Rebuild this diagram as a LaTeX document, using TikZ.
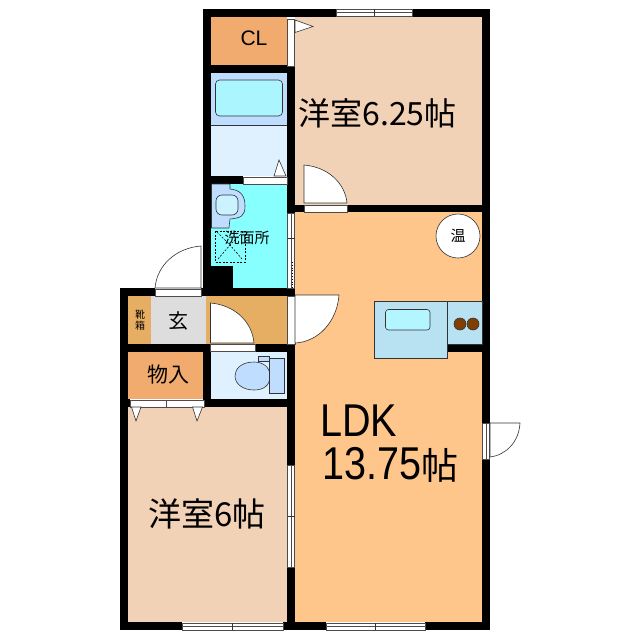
\documentclass[tikz,border=0pt]{standalone}
\usepackage{fontspec}
\setmainfont{Noto Sans CJK JP}
\newfontfamily\latinfont{Liberation Sans}
\tikzset{
wall/.style={fill=black, draw=none},
fitting/.style={draw=black!80, line width=0.6pt},
doorleaf/.style={fill=white, draw=black!80, line width=0.6pt},
sash/.style={fill=white, draw=black!70, line width=0.5pt},
label/.style={inner sep=0pt, text=black}
}
\definecolor{roomtan}{HTML}{F2D2B6}
\definecolor{ldkorange}{HTML}{FFC68C}
\definecolor{closetorange}{HTML}{F2AB6E}
\definecolor{hallorange}{HTML}{E6AE62}
\definecolor{wetpale}{HTML}{DFF1FF}
\definecolor{wetblue}{HTML}{BFDDFF}
\definecolor{tubcyan}{HTML}{ABF5FF}
\definecolor{washcyan}{HTML}{88FFFF}
\definecolor{kitchenblue}{HTML}{B8E2F2}
\definecolor{entrygray}{HTML}{DDDDDD}
\definecolor{burnerbrown}{HTML}{7F3F00}
\begin{document}
\begin{tikzpicture}[x=1pt,y=-1pt]
\useasboundingbox (0,0) rectangle (640,640);
\fill[white] (0,0) rectangle (640,640);

% rooms
\fill[roomtan] (295,17) rectangle (482,205);
\fill[ldkorange] (295,212) rectangle (482,622);
\fill[roomtan] (128,407) rectangle (287,622);
\fill[closetorange] (211,17) rectangle (287,65);
\fill[wetblue] (211,73) rectangle (287,125);
\fill[wetpale] (211,125) rectangle (287,176);
\fill[washcyan] (211,184) rectangle (287,288);
\fill[hallorange] (128,296) rectangle (151,344);
\fill[entrygray] (151,296) rectangle (206,344);
\fill[hallorange] (206,296) rectangle (287,344);
\fill[closetorange] (128,352) rectangle (203,399);
\fill[wetpale] (211,352) rectangle (287,399);

% walls
\fill[wall] (203,9) rectangle (336,17);
\fill[wall] (412,9) rectangle (490,17);
\fill[wall] (482,9) rectangle (490,423);
\fill[wall] (482,459) rectangle (490,630);
\fill[wall] (203,9) rectangle (211,288);
\fill[wall] (211,65) rectangle (295,73);
\fill[wall] (287,66) rectangle (295,213);
\fill[wall] (203,176) rectangle (243,184);
\fill[wall] (287,205) rectangle (304,212);
\fill[wall] (347,205) rectangle (482,212);
\fill[wall] (211,266) rectangle (233,288);
\fill[wall] (120,288) rectangle (155,296);
\fill[wall] (201,288) rectangle (295,296);
\fill[wall] (120,288) rectangle (128,630);
\fill[wall] (120,344) rectangle (211,352);
\fill[wall] (255,344) rectangle (295,352);
\fill[wall] (203,352) rectangle (211,407);
\fill[wall] (287,352) rectangle (295,465);
\fill[wall] (287,567) rectangle (295,630);
\fill[wall] (204,399) rectangle (295,407);
\fill[wall] (128,399) rectangle (130,407);
\fill[wall] (447,344) rectangle (482,352);
\fill[wall] (120,622) rectangle (182,630);
\fill[wall] (283,622) rectangle (326,630);
\fill[wall] (425,622) rectangle (490,630);

% windows
\foreach \xa/\xb in {336/412,182/283,326/425}{
  \pgfmathsetmacro{\yo}{\xa==336 ? 9 : 623}
  \filldraw[sash] (\xa,\yo) rectangle (\xb,\yo+7);
  \draw[black!70,line width=0.5pt] (\xa,\yo+3.5) -- (\xb,\yo+3.5);
  \draw[black!80,line width=0.5pt] ({(\xa+\xb)/2},\yo) -- ({(\xa+\xb)/2},\yo+7);
}
\filldraw[sash] (287.5,465) rectangle (294.5,567);
\draw[black!70,line width=0.5pt] (291,465) -- (291,567);
\draw[black!80,line width=0.5pt] (287.5,516) -- (294.5,516);
\filldraw[sash] (287.5,213) rectangle (294.5,288);
\draw[black!70,line width=0.5pt] (291,213) -- (291,288);
\draw[black!80,line width=0.5pt] (287.5,238) -- (294.5,238);
\fill[white] (288,262) rectangle (291,288);
\draw[black,dotted,line width=0.8pt] (292.5,262) -- (292.5,288);

% closet doors and plain door strips
\filldraw[sash] (287.5,19) rectangle (294,66);
\filldraw[sash] (243,177) rectangle (287,184);
\filldraw[sash] (287.5,296) rectangle (295,344);
\filldraw[sash] (130,400) rectangle (166,407);
\filldraw[sash] (166,400) rectangle (204,407);
\filldraw[sash] (155,289) rectangle (201,296);
\filldraw[sash] (210,344) rectangle (255,351);
\filldraw[sash] (304,205) rectangle (347,212);
\filldraw[sash] (482.5,423) rectangle (489.5,459);
\draw[black!70,line width=0.5pt] (486,423) -- (486,459);
\filldraw[doorleaf] (295,20) -- (313,26.5) -- (295,32.5) -- cycle;
\filldraw[doorleaf] (274,176) -- (279,160) -- (286,176) -- cycle;
\filldraw[doorleaf] (131.5,407) -- (141,407) -- (136,421) -- cycle;
\filldraw[doorleaf] (192.5,407) -- (202.5,407) -- (197,421) -- cycle;

% door leaves
\filldraw[doorleaf] (304,203) -- (304,165) .. controls (328,167) and (345,183) .. (347,203) -- cycle;
\filldraw[doorleaf] (201,288) -- (201,246) .. controls (176,248) and (157,265) .. (155,288) -- cycle;
\filldraw[doorleaf] (210.5,343) -- (210.5,303) .. controls (234,305) and (252,321) .. (254,343) -- cycle;
\filldraw[doorleaf] (295,295) -- (339,295) .. controls (337,322) and (318,342) .. (295,343) -- cycle;
\filldraw[doorleaf] (490,423) -- (520,423) .. controls (519,442) and (506,455) .. (490,457) -- cycle;

% fittings
\filldraw[fitting, fill=tubcyan, rounded corners=4pt] (215.5,80) rectangle (282.5,116);
\draw[black!80,line width=0.6pt] (211,125) -- (287,125);
\filldraw[fitting, fill=wetblue] (211.5,184) -- (230,184) -- (230,189) .. controls (241,190) and (245,196) .. (245,206) .. controls (245,216) and (241,218) .. (230,219) -- (229,228) -- (211.5,228) -- cycle;
\filldraw[fitting, fill=wetpale!60!tubcyan, rounded corners=6pt] (216,195) rectangle (238,215);
\draw[black,dashed,line width=0.6pt,dash pattern=on 2pt off 1.5pt] (215,231) rectangle (245,262);
\draw[black,dashed,line width=0.6pt,dash pattern=on 2pt off 1.5pt] (218,259) -- (230,245) -- (242,259) (217,232) -- (230,245) -- (243,232);
\filldraw[fitting, fill=wetblue] (254,362) .. controls (241,362) and (235,369) .. (235,376) .. controls (235,384) and (243,390) .. (254,390) .. controls (263,390) and (270,386) .. (270,376) .. controls (270,367) and (263,362) .. (254,362) -- cycle;
\filldraw[fitting, fill=wetblue] (258,356) rectangle (269,361);
\filldraw[fitting, fill=wetblue] (269,358) rectangle (284,393);
\filldraw[fitting, fill=kitchenblue] (447,301) rectangle (482,344);
\filldraw[fitting, fill=kitchenblue] (374,301) rectangle (447,358);
\filldraw[fitting, fill=tubcyan!90!white, rounded corners=3pt] (385.5,309.5) rectangle (430,330);
\filldraw[fitting, fill=burnerbrown] (460,324) circle (6);
\filldraw[fitting, fill=burnerbrown] (473,324) circle (6);
\node[circle, draw=black!80, fill=white, minimum size=44pt, inner sep=0pt, line width=0.6pt, font=\fontsize{15}{15}\selectfont] (onsui) at (458,236) {温};

% labels
\node[label, font=\latinfont\fontsize{21}{21}\selectfont] (clLabel) at (254,38) {CL};
\node[label, font=\fontsize{32}{32}\selectfont] (roomA) at (377.5,113) {洋室6.25帖};
\node[label, font=\fontsize{15}{15}\selectfont] (washLabel) at (247,238) {洗面所};
\node[label, font=\fontsize{20}{20}\selectfont] (entryLabel) at (178,321) {玄};
\node[label, align=center, font=\fontsize{10}{11}\selectfont] (shoeLabel) at (140,320) {靴\\箱};
\node[label, font=\fontsize{21}{21}\selectfont] (storeLabel) at (168,375) {物入};
\node[label, anchor=west, font=\latinfont\fontsize{46}{46}\selectfont] (ldkLabel) at (320,421) {\scalebox{0.86}[1]{LDK}};
\node[label, anchor=west, font=\latinfont\fontsize{46}{46}\selectfont] (ldkSize) at (322,465) {\scalebox{0.86}[1]{13.75}{\rmfamily\fontsize{37}{37}\selectfont 帖}};
\node[label, font=\fontsize{33}{33}\selectfont] (roomB) at (207,514) {洋室6帖};
\end{tikzpicture}
\end{document}
